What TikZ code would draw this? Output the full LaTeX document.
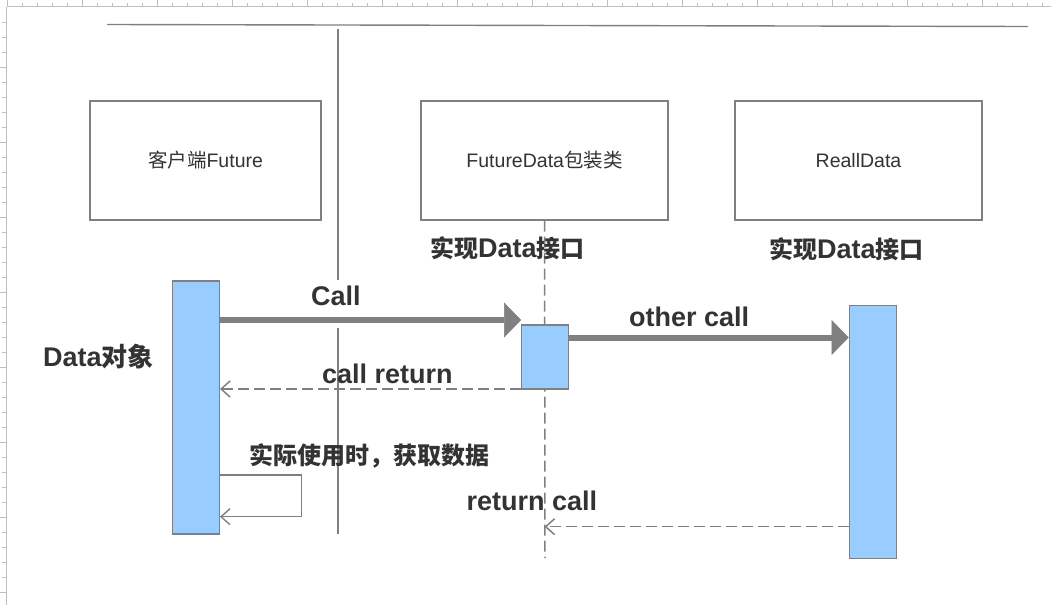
\documentclass[tikz,border=0pt]{standalone}
\usepackage{fontspec}
\setmainfont{Liberation Sans}
\newfontfamily\cjk{Noto Sans CJK SC}
\usetikzlibrary{arrows.meta}
\definecolor{lc}{HTML}{808080}
\definecolor{rc}{HTML}{BFBFBF}
\definecolor{barfill}{HTML}{99CCFF}
\definecolor{txt}{HTML}{333333}
\newcommand\zh[1]{{\cjk #1}}
\newcommand\zhb[1]{{\fontsize{24}{28}\selectfont\cjk #1}}
\begin{document}
\begin{tikzpicture}[x=1pt,y=-1pt,
  box/.style={draw=lc, line width=1.3pt, fill=white, inner sep=0pt,
    minimum height=119pt,
    font=\fontsize{19.5}{22}\selectfont, text=txt},
  bar/.style={draw=lc, line width=1.3pt, fill=barfill, inner sep=0pt},
  lbl/.style={font=\fontsize{27}{30}\selectfont\bfseries, text=txt, inner sep=0pt},
  callarrow/.style={draw=lc, line width=6pt,
    -{Triangle[length=17pt,width=35pt,line width=0.5pt]}},
  retarrow/.style={draw=lc, line width=1.5pt, dash pattern=on 11pt off 5pt,
    -{Straight Barb[length=9pt,width=16pt]}},
  selfarrow/.style={draw=lc, line width=1.4pt,
    -{Straight Barb[length=9pt,width=16pt]}},
  ruler/.style={draw=rc, line width=1pt},
  frameline/.style={draw=lc, line width=1.4pt}
]
\useasboundingbox (0,0) rectangle (1051,605);

% rulers
\draw[ruler] (7,6.7) -- (1051,6.7);
\draw[ruler] (6.7,7) -- (6.7,605);
\foreach \i in {0,...,69} {
  \pgfmathsetmacro{\xx}{7.7+15*\i}
  \pgfmathtruncatemacro{\mm}{mod(\i,5)}
  \ifnum\mm=0
    \draw[ruler] (\xx,0) -- (\xx,6.7);
  \else
    \draw[ruler] (\xx,3.3) -- (\xx,6.7);
  \fi
}
\foreach \j in {0,...,38} {
  \pgfmathsetmacro{\yy}{22.7+15*\j}
  \pgfmathtruncatemacro{\mm}{mod(\j+2,5)}
  \ifnum\mm=0
    \draw[ruler] (0,\yy) -- (6.7,\yy);
  \else
    \draw[ruler] (2.3,\yy) -- (6.7,\yy);
  \fi
}

% frame lines
\draw[frameline] (107,24.5) -- (1028,26.5);
\draw[frameline] (338,29) -- (338,534);

% boxes
\node[box, minimum width=231pt] (b1) at (205.5,160.5) {\zh{客户端}Future};
\node[box, minimum width=247pt] (b2) at (544.5,160.5) {FutureData\zh{包装类}};
\node[box, minimum width=247pt] (b3) at (858.5,160.5) {ReallData};

% lifeline of box 2
\coordinate (lifeend) at (545,558);
\draw[draw=lc, line width=1.5pt, dash pattern=on 11pt off 5pt] (b2.south) -- (lifeend);

% activation bars
\node[bar, minimum width=46.6pt, minimum height=253pt] (bar1) at (196,407.5) {};
\node[bar, minimum width=46.6pt, minimum height=64pt] (bar2) at (545,357) {};
\node[bar, minimum width=47.4pt, minimum height=252.6pt] (bar3) at (873,432) {};

% labels
\node[lbl, anchor=base west] (if2) at (430,257.3) {\zhb{实现}Data\zhb{接口}};
\node[lbl, anchor=base west] (if3) at (769,258) {\zhb{实现}Data\zhb{接口}};
\node[lbl, anchor=base west] (dobj) at (43,366.7) {Data{\fontsize{26}{30}\selectfont\cjk 对象}};
\node[lbl, anchor=base west, fill=white, inner xsep=4pt, text height=26pt, text depth=22pt] (lcall) at (307,305.7) {Call};
\node[lbl, anchor=base west] (lother) at (629,326) {other call};
\node[lbl, anchor=base west] (lcret) at (322,383.3) {call return};
\node[lbl, anchor=base west] (luse) at (249,464) {\zhb{实际使用时，获取数据}};
\node[lbl, anchor=base west] (lrcall) at (466.5,510.7) {return call};

% messages
\draw[callarrow] (bar1.east |- 0,320) -- (bar2.west |- 0,320);
\draw[callarrow] (bar2.east |- 0,337.5) -- (bar3.west |- 0,337.5);
\draw[retarrow] (bar2.west |- 0,389) -- (bar1.east |- 0,389);
\draw[selfarrow] (bar1.east |- 0,475) -| (301.7,496) |- (bar1.east |- 0,516.7);
\draw[retarrow] (bar3.west |- 0,526.7) -- (b2.south |- 0,526.7);
\end{tikzpicture}
\end{document}
